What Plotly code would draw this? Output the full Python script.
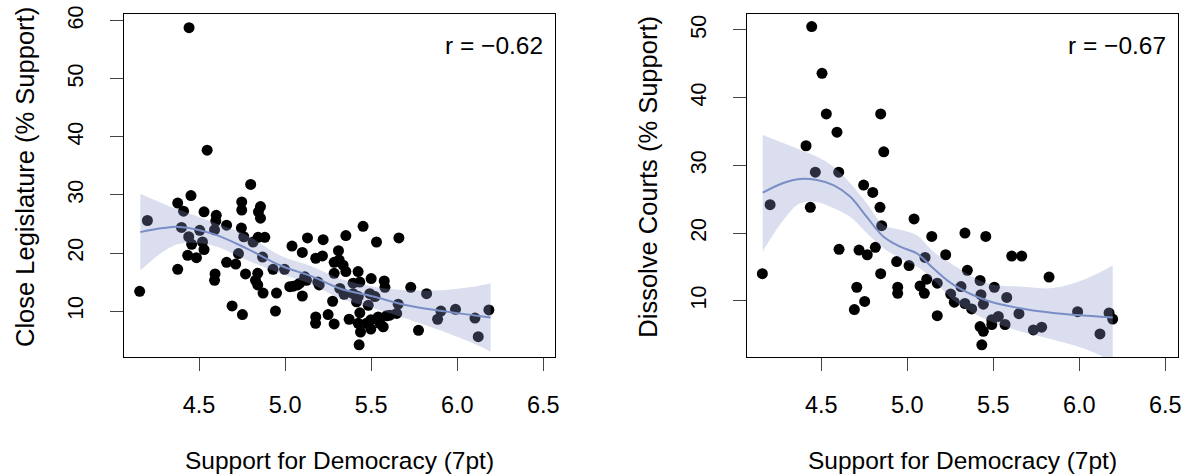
import plotly.graph_objects as go

# ---------------- data: left panel (Close Legislature) ----------------
leg_x = [4.442, 4.547, 4.20, 4.155, 4.376, 4.453, 4.41, 4.398, 4.44, 4.457,
         4.434, 4.485, 4.376, 4.504, 4.529, 4.529, 4.52, 4.60, 4.597, 4.59,
         4.66, 4.593, 4.59, 4.66, 4.713, 4.729, 4.692, 4.752, 4.77, 4.748,
         4.748, 4.80, 4.746, 4.76, 4.814, 4.857, 4.845, 4.857, 4.843, 4.882,
         4.869, 4.841, 4.828, 4.841, 4.872, 4.93, 4.95, 4.944, 4.997, 5.04,
         5.10, 5.13, 5.027, 5.072, 5.10, 5.124,
         5.221, 5.353, 5.453, 5.531, 5.661, 5.178, 5.217, 5.31, 5.285, 5.314,
         5.285, 5.353, 5.424, 5.434, 5.50, 5.576, 5.58, 5.73, 5.822, 5.114,
         5.047, 5.198, 5.276, 5.343, 5.415, 5.483, 5.522, 5.657, 5.648, 5.178,
         5.177, 5.25, 5.285, 5.372, 5.425, 5.438, 5.498, 5.498, 5.541, 5.57,
         5.609, 5.43, 5.775, 5.905, 5.886, 5.99, 6.103, 6.122, 6.184, 5.425,
         5.492, 5.434, 5.473, 5.55, 5.59, 5.085, 5.19, 5.337, 5.395, 5.318,
         5.395]
leg_y = [58.8, 37.7, 25.6, 13.4, 28.6, 29.9, 27.2, 24.4, 22.8, 21.5,
         19.6, 19.2, 17.2, 23.9, 27.1, 20.6, 21.9, 26.5, 25.5, 24.0,
         24.8, 16.4, 15.3, 18.4, 18.1, 19.9, 10.9, 9.4, 16.4, 28.8,
         27.4, 31.8, 24.3, 22.8, 21.9, 28.0, 27.1, 26.0, 22.7, 22.7,
         19.3, 16.5, 15.3, 14.5, 13.1, 17.2, 13.1, 10.0, 17.2, 21.2,
         20.1, 22.6, 14.2, 14.5, 12.6, 15.3,
         22.3, 23.0, 24.6, 21.9, 22.6, 19.1, 19.5, 20.4, 18.4, 18.8,
         16.5, 16.8, 16.8, 15.0, 15.6, 15.2, 14.1, 14.1, 13.0, 15.9,
         14.3, 14.5, 11.7, 12.9, 11.6, 11.0, 12.5, 11.2, 9.6, 9.0,
         7.9, 9.4, 7.8, 8.6, 7.9, 6.4, 8.5, 6.9, 9.0, 7.3,
         9.3, 4.2, 6.7, 10.0, 8.6, 10.3, 8.8, 5.6, 10.2, 12.5,
         13.0, 9.7, 7.9, 7.9, 9.2, 14.8, 15.0, 17.9, 13.0, 13.9,
         14.8]

# loess fit for left panel
leg_fit_x = [4.159, 4.291, 4.388, 4.581, 4.776, 4.969, 5.163, 5.318, 5.512, 5.706, 5.90, 6.093, 6.194]
leg_fit = [23.6, 24.3, 24.5, 23.3, 20.8, 17.9, 15.9, 13.9, 12.5, 11.0, 10.05, 9.3, 8.9]
leg_hi = [30.2, 28.5, 27.4, 25.3, 23.1, 19.6, 17.6, 15.6, 14.2, 13.6, 13.6, 14.2, 14.8]
leg_lo = [17.0, 20.2, 21.6, 21.3, 18.8, 16.5, 14.5, 12.2, 10.5, 8.7, 6.7, 4.45, 3.0]

# ---------------- data: right panel (Dissolve Courts) ----------------
crt_x = [4.444, 4.504, 4.529, 4.845, 4.591, 4.411, 4.863, 4.465, 4.601, 4.746,
         4.799, 4.202, 4.157, 4.436, 4.841, 4.851, 5.039, 5.142, 4.603, 4.719,
         4.767, 4.814, 4.938, 5.01, 5.103, 4.845, 4.706, 4.752, 4.692, 4.944,
         4.944, 5.074, 5.099, 5.113, 5.174, 5.174, 5.335, 5.456, 5.223, 5.607,
         5.665, 5.349, 5.824, 5.252, 5.273, 5.312, 5.335, 5.374, 5.423, 5.428,
         5.442, 5.506, 5.578, 5.529, 5.568, 5.491, 5.423, 5.442, 5.433, 5.649,
         5.733, 5.781, 5.99, 6.12, 6.173, 6.194, 5.491]
crt_y = [50.5, 43.6, 37.6, 37.6, 34.9, 32.9, 32.0, 29.0, 29.0, 27.1,
         26.0, 24.2, 14.0, 23.8, 23.8, 21.1, 22.1, 19.5, 17.6, 17.5,
         16.8, 17.9, 15.8, 15.2, 16.4, 14.0, 12.0, 9.9, 8.7, 12.0,
         11.1, 12.2, 11.1, 13.2, 12.6, 7.8, 20.0, 19.5, 16.8, 16.6,
         16.6, 14.5, 13.5, 11.0, 9.8, 12.1, 9.6, 8.8, 13.0, 10.9,
         9.5, 12.0, 10.5, 7.7, 6.5, 6.5, 6.2, 5.5, 3.5, 8.1,
         5.7, 6.1, 8.4, 5.1, 8.2, 7.3, 7.2]

crt_fit_x = [4.159, 4.279, 4.376, 4.473, 4.57, 4.667, 4.764, 4.86, 4.958, 5.055,
             5.151, 5.267, 5.462, 5.655, 5.849, 6.043, 6.194]
crt_fit = [25.97, 27.4, 28.0, 27.85, 27.1, 25.4, 22.4, 19.5, 18.0, 17.0,
           14.8, 12.4, 10.05, 8.9, 8.2, 7.8, 7.55]
crt_hi = [34.5, 33.3, 32.3, 31.3, 29.8, 27.4, 24.4, 21.2, 20.5, 19.7,
          17.3, 15.3, 12.6, 12.1, 11.9, 13.3, 15.2]
crt_lo = [17.3, 21.9, 24.4, 24.6, 23.7, 22.4, 20.0, 17.8, 16.3, 15.1,
          13.1, 10.1, 7.2, 5.5, 4.25, 2.8, 1.0]

x_ticks = [4.5, 5.0, 5.5, 6.0, 6.5]
leg_ticks = [10, 20, 30, 40, 50, 60]
crt_ticks = [10, 20, 30, 40, 50]
x_title = "Support for Democracy (7pt)"
leg_title = "Close Legislature (% Support)"
crt_title = "Dissolve Courts (% Support)"
r_labels = ["r = \u22120.62", "r = \u22120.67"]

# ---------------- styling ----------------
W, H = 1186, 476
FONT = "Liberation Sans, Arial, Helvetica, sans-serif"
BAND = "rgba(134,150,200,0.31)"
LINE = "rgb(122,142,198)"

fig = go.Figure()


def add_panel(xs, ys, fx, fy, hi, lo, xa, ya):
    fig.add_trace(go.Scatter(x=xs, y=ys, mode="markers", xaxis=xa, yaxis=ya,
                             marker=dict(color="black", size=11, line=dict(width=0)),
                             showlegend=False, hoverinfo="skip"))
    fig.add_trace(go.Scatter(x=fx, y=lo, mode="lines", xaxis=xa, yaxis=ya,
                             line=dict(width=0, shape="spline", color=BAND),
                             showlegend=False, hoverinfo="skip"))
    fig.add_trace(go.Scatter(x=fx, y=hi, mode="lines", xaxis=xa, yaxis=ya,
                             fill="tonexty", fillcolor=BAND,
                             line=dict(width=0, shape="spline", color=BAND),
                             showlegend=False, hoverinfo="skip"))
    fig.add_trace(go.Scatter(x=fx, y=fy, mode="lines", xaxis=xa, yaxis=ya,
                             line=dict(width=2, shape="spline", color=LINE),
                             showlegend=False, hoverinfo="skip"))


add_panel(leg_x, leg_y, leg_fit_x, leg_fit, leg_hi, leg_lo, "x", "y")
add_panel(crt_x, crt_y, crt_fit_x, crt_fit, crt_hi, crt_lo, "x2", "y2")

# pixel geometry of the two plot boxes
L1, R1 = 124, 555
L2, R2 = 746.7, 1177.7
TOP, BOT = 14, 357
ydom = [1 - BOT / H, 1 - TOP / H]

common_x = dict(tickvals=x_ticks, tickformat=".1f", ticks="outside", ticklen=13,
                tickcolor="#444", tickwidth=1, showline=True, linecolor="black",
                linewidth=1, mirror=True, showgrid=False, zeroline=False,
                automargin=False,
                tickfont=dict(size=23.5, color="black", family=FONT),
                ticklabelstandoff=14)
common_y = dict(ticks="outside", ticklen=13, tickcolor="#444", tickwidth=1,
                showline=True, linecolor="black", linewidth=1, mirror=True,
                showgrid=False, zeroline=False, tickangle=-90, automargin=False,
                tickfont=dict(size=21.5, color="black", family=FONT),
                ticklabelstandoff=18)

fig.update_layout(
    width=W, height=H,
    margin=dict(l=0, r=0, t=0, b=0, pad=0),
    paper_bgcolor="white", plot_bgcolor="white",
    font=dict(family=FONT, color="black"),
    xaxis=dict(domain=[L1 / W, R1 / W], range=[4.064, 6.568], anchor="y", **common_x),
    yaxis=dict(domain=ydom, range=[2.1, 61.15], tickvals=leg_ticks, anchor="x", **common_y),
    xaxis2=dict(domain=[L2 / W, R2 / W], range=[4.066, 6.572], anchor="y2", **common_x),
    yaxis2=dict(domain=ydom, range=[1.7, 52.36], tickvals=crt_ticks, anchor="x2", **common_y),
)

ann = []
for left, right, ytitle, rlab in [(L1, R1, leg_title, r_labels[0]), (L2, R2, crt_title, r_labels[1])]:
    ann.append(dict(text=x_title, xref="paper", yref="paper", x=(left + right) / 2 / W,
                    y=1 - 460 / H, xanchor="center", yanchor="middle", showarrow=False,
                    font=dict(size=24.5, family=FONT, color="black")))
    ann.append(dict(text=ytitle, xref="paper", yref="paper", x=(left - 99) / W,
                    y=1 - 177 / H, xanchor="center", yanchor="middle", textangle=-90,
                    showarrow=False, font=dict(size=25.5, family=FONT, color="black")))
    ann.append(dict(text=rlab, xref="paper", yref="paper", x=(right - 10) / W,
                    y=1 - 46 / H, xanchor="right", yanchor="middle", showarrow=False,
                    font=dict(size=24.5, family=FONT, color="black")))
fig.update_layout(annotations=ann)

fig.write_html("out.html",
               config={"displayModeBar": False, "staticPlot": True},
               post_script="document.body.style.margin='0';document.body.style.overflow='hidden';")
